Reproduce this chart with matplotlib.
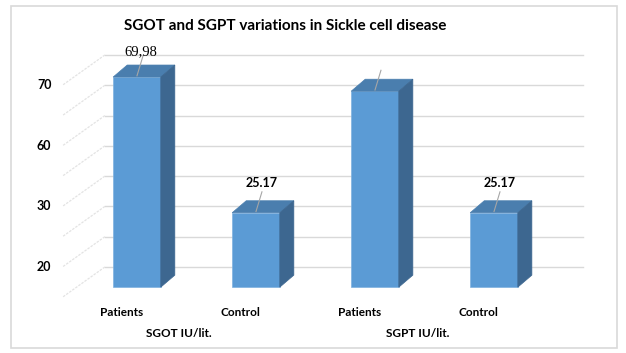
import numpy as np
import matplotlib.pyplot as plt
from matplotlib.patches import Polygon, Rectangle

# chart data
categories = ["Patients", "Control", "Patients", "Control"]
groups = ["SGOT IU/lit.", "SGPT IU/lit."]
values = [69.98, 25.17, 65.3, 25.17]
value_labels = ["69,98", "25.17", "", "25.17"]
tick_labels = ["70", "60", "30", "20"]
title = "SGOT and SGPT variations in Sickle cell disease"

FRONT = "#5b9bd5"
TOP = "#4a7eae"
SIDE = "#3d6790"
GRID = "#d9d9d9"
SANS = ["Lato", "DejaVu Sans"]

fig = plt.figure(figsize=(6.26, 3.53), dpi=100)
ax = fig.add_axes([0, 0, 1, 1])
ax.set_xlim(-1.151, 4.109)
ax.set_ylim(-25.1, 91.45)
ax.axis("off")

# outer frame
fig.patches.append(Rectangle((0.0176, 0.0142), 0.968, 0.969, transform=fig.transFigure,
                             fill=False, edgecolor=GRID, lw=1.2))

x = np.arange(len(values))
bar_w = 0.4
dx, dy = 0.118, 3.96          # depth of the 3d boxes
floor = 0.6
grid = 3.3 + 10 * np.arange(8)
wall_l, wall_r = -0.27, 3.75
side_dx, side_dy = 0.353, 9.9

# back wall and side wall lines
for g in grid:
    ax.plot([wall_l, wall_r], [g, g], color=GRID, lw=1.0, zorder=1)
    ax.plot([wall_l, wall_l - side_dx], [g, g - side_dy], color="#e3e3e3",
            lw=0.9, ls=(0, (2, 1)), zorder=1)

for gv, lab in zip(grid[::-1][1::2], tick_labels):
    ax.text(-0.78, gv, lab, ha="center", va="center", fontsize=9,
            fontweight="bold", family=SANS)

# bars: front faces, then top and side faces
heights = np.array(values) - floor
ax.bar(x, heights, width=bar_w, bottom=floor - dy, color=FRONT, edgecolor="#7fb2e0",
       lw=0.5, zorder=3)
for xi, v in zip(x, values):
    l, r = xi - bar_w / 2, xi + bar_w / 2
    ax.add_patch(Polygon([(l, v - dy), (r, v - dy), (r + dx, v), (l + dx, v)],
                         closed=True, fc=TOP, ec=TOP, lw=0.5, zorder=3))
    ax.add_patch(Polygon([(r, floor - dy), (r, v - dy), (r + dx, v), (r + dx, floor)],
                         closed=True, fc=SIDE, ec=SIDE, lw=0.5, zorder=3))

# leader lines and value labels
for i, (xi, v, lab) in enumerate(zip(x, values, value_labels)):
    y0 = v - dy + 0.4
    y1 = y0 + 6.5
    ax.plot([xi, xi + 0.05], [y0, y1], color="#a6a6a6", lw=0.8, zorder=4)
    if i == 0:
        ax.text(xi + 0.03, y1 - 0.6, lab, ha="center", va="bottom", fontsize=10.5,
                family="Liberation Serif", zorder=5)
    elif lab:
        ax.text(xi + 0.05, y1 + 0.8, lab, ha="center", va="bottom", fontsize=9,
                fontweight="bold", family=SANS, zorder=5)

# category and group labels
for xi, c in zip(x, categories):
    ax.text(xi - 0.13, -11.6, c, ha="center", va="center", fontsize=8.5,
            fontweight="bold", family=SANS)
for gi, gname in enumerate(groups):
    ax.text(2 * gi + 0.5 - 0.145, -18.7, gname, ha="center", va="center",
            fontsize=8.5, fontweight="bold", family=SANS)

ax.text(0.456, 0.925, title, transform=fig.transFigure, ha="center", va="center",
        fontsize=11, fontweight="bold", family=SANS)

fig.savefig("out.png", dpi=100)
